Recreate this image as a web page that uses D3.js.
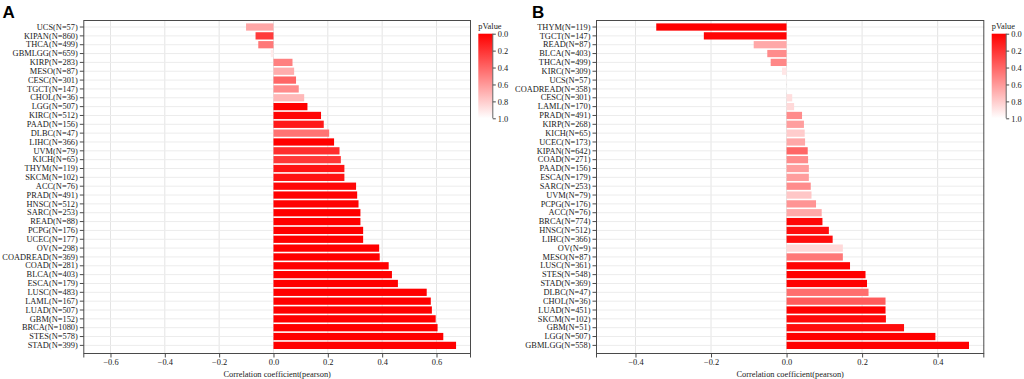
<!DOCTYPE html>
<html>
<head>
<meta charset="utf-8">
<script src="https://cdn.jsdelivr.net/npm/d3@7"></script>
<style>
  html, body { margin: 0; padding: 0; background: #fff; }
  svg { display: block; }
  text { font-family: "Liberation Serif", "Times New Roman", serif; }
  text.letter { font-family: "Liberation Sans", Arial, sans-serif; font-weight: bold; }
</style>
</head>
<body>
<svg id="chart" width="1024" height="379"></svg>
<script>
// ---------------- Panel A data ----------------
const catsA = ["UCS(N=57)","KIPAN(N=860)","THCA(N=499)","GBMLGG(N=659)","KIRP(N=283)","MESO(N=87)","CESC(N=301)","TGCT(N=147)","CHOL(N=36)","LGG(N=507)","KIRC(N=512)","PAAD(N=156)","DLBC(N=47)","LIHC(N=366)","UVM(N=79)","KICH(N=65)","THYM(N=119)","SKCM(N=102)","ACC(N=76)","PRAD(N=491)","HNSC(N=512)","SARC(N=253)","READ(N=88)","PCPG(N=176)","UCEC(N=177)","OV(N=298)","COADREAD(N=369)","COAD(N=281)","BLCA(N=403)","ESCA(N=179)","LUSC(N=483)","LAML(N=167)","LUAD(N=507)","GBM(N=152)","BRCA(N=1080)","STES(N=578)","STAD(N=399)"];
const corA = [-0.101,-0.066,-0.056,-0.010,0.070,0.076,0.083,0.093,0.113,0.125,0.175,0.185,0.205,0.223,0.243,0.248,0.261,0.261,0.304,0.308,0.313,0.320,0.320,0.330,0.330,0.389,0.391,0.424,0.436,0.458,0.564,0.579,0.583,0.597,0.604,0.625,0.672];
const pA = [0.65,0.23,0.47,0.92,0.50,0.68,0.40,0.55,0.72,0.00,0.02,0.10,0.45,0.00,0.18,0.22,0.08,0.08,0.03,0.01,0.01,0.00,0.00,0.00,0.00,0.00,0.00,0.00,0.00,0.00,0.00,0.00,0.00,0.00,0.00,0.00,0.00];
const ticksA = [-0.6,-0.4,-0.2,0.0,0.2,0.4,0.6];

// ---------------- Panel B data ----------------
const catsB = ["THYM(N=119)","TGCT(N=147)","READ(N=87)","BLCA(N=403)","THCA(N=499)","KIRC(N=309)","UCS(N=57)","COADREAD(N=358)","CESC(N=301)","LAML(N=170)","PRAD(N=491)","KIRP(N=268)","KICH(N=65)","UCEC(N=173)","KIPAN(N=642)","COAD(N=271)","PAAD(N=156)","ESCA(N=179)","SARC(N=253)","UVM(N=79)","PCPG(N=176)","ACC(N=76)","BRCA(N=774)","HNSC(N=512)","LIHC(N=366)","OV(N=9)","MESO(N=87)","LUSC(N=361)","STES(N=548)","STAD(N=369)","DLBC(N=47)","CHOL(N=36)","LUAD(N=451)","SKCM(N=102)","GBM(N=51)","LGG(N=507)","GBMLGG(N=558)"];
const corB = [-0.345,-0.219,-0.087,-0.051,-0.042,-0.012,-0.002,0.002,0.015,0.020,0.041,0.046,0.048,0.049,0.056,0.057,0.059,0.059,0.064,0.066,0.078,0.093,0.095,0.112,0.122,0.149,0.149,0.168,0.209,0.213,0.217,0.262,0.262,0.263,0.311,0.394,0.483];
const pB = [0.00,0.02,0.66,0.55,0.53,0.90,0.97,0.99,0.87,0.85,0.55,0.62,0.80,0.66,0.40,0.55,0.62,0.62,0.55,0.78,0.58,0.66,0.02,0.05,0.05,0.85,0.47,0.01,0.00,0.00,0.43,0.36,0.00,0.03,0.05,0.00,0.00];
const ticksB = [-0.4,-0.2,0.0,0.2,0.4];

const legendTicks = [0.0,0.2,0.4,0.6,0.8,1.0];
const axisTitle = "Correlation coefficient(pearson)";

const svg = d3.select("#chart");
const color = d3.scaleLinear().domain([0, 1]).range(["#ff0000", "#ffffff"]).interpolate(d3.interpolateRgb);
const fmt = d3.format(".1f");
const minus = s => s.replace("-", "\u2212");

function drawPanel(cfg) {
  const g = svg.append("g");
  const x = d3.scaleLinear().domain(cfg.domain).range([cfg.left, cfg.right]);
  const y = d3.scaleBand().domain(cfg.cats).range([22.6, 349.8]).paddingInner(0.18).paddingOuter(0.09);

  // vertical grid
  g.selectAll("line.vg").data(cfg.ticks).join("line")
    .attr("x1", d => x(d)).attr("x2", d => x(d))
    .attr("y1", cfg.top).attr("y2", cfg.bottom)
    .attr("stroke", "#e4e4e4").attr("stroke-width", 1);
  // horizontal grid at category centers
  g.selectAll("line.hg").data(cfg.cats).join("line")
    .attr("x1", cfg.left).attr("x2", cfg.right)
    .attr("y1", d => y(d) + y.bandwidth() / 2).attr("y2", d => y(d) + y.bandwidth() / 2)
    .attr("stroke", "#ececec").attr("stroke-width", 1);

  // bars
  g.selectAll("rect.bar").data(cfg.cats.map((c, i) => ({c, v: cfg.vals[i], p: cfg.p[i]}))).join("rect")
    .attr("x", d => Math.min(x(0), x(d.v)))
    .attr("width", d => Math.abs(x(d.v) - x(0)))
    .attr("y", d => y(d.c))
    .attr("height", y.bandwidth())
    .attr("fill", d => color(d.p));

  // frame
  g.append("rect")
    .attr("x", cfg.left + 0.5).attr("y", cfg.top + 0.5)
    .attr("width", cfg.right - cfg.left - 1).attr("height", cfg.bottom - cfg.top - 1)
    .attr("fill", "none").attr("stroke", "#4a4a4a").attr("stroke-width", 1);

  // left axis
  const ya = d3.axisLeft(y).tickSize(4).tickPadding(2);
  const yg = g.append("g").attr("transform", `translate(${cfg.left + 0.5},0)`).call(ya);
  yg.select(".domain").remove();
  yg.selectAll(".tick line").attr("stroke", "#4a4a4a");
  yg.selectAll(".tick text").attr("font-size", "8.4px").attr("fill", "#1a1a1a");

  // bottom axis
  const xa = d3.axisBottom(x).tickValues(cfg.ticks).tickSize(4).tickPadding(2).tickFormat(d => minus(fmt(d)));
  const xg = g.append("g").attr("transform", `translate(0,${cfg.bottom - 0.5})`).call(xa);
  xg.select(".domain").remove();
  xg.selectAll(".tick line").attr("stroke", "#4a4a4a");
  xg.selectAll(".tick text").attr("font-size", "8.4px").attr("fill", "#1a1a1a");
  // corner ticks
  g.selectAll("line.ct").data([cfg.left + 0.5, cfg.right - 0.5]).join("line")
    .attr("x1", d => d).attr("x2", d => d)
    .attr("y1", cfg.bottom - 0.5).attr("y2", cfg.bottom + 3.5)
    .attr("stroke", "#4a4a4a");

  // axis title
  g.append("text")
    .attr("x", (cfg.left + cfg.right) / 2).attr("y", 377)
    .attr("text-anchor", "middle").attr("font-size", "8.4px").attr("fill", "#1a1a1a")
    .text(axisTitle);

  // panel letter
  g.append("text").attr("class", "letter")
    .attr("x", cfg.letterX).attr("y", 17.5)
    .attr("font-size", "17px").attr("fill", "#000")
    .text(cfg.letter);

  // legend
  const lx = cfg.legX, ly0 = 33.7, ly1 = 118.3, lw = 14.5;
  const gid = "grad" + cfg.letter;
  const grad = svg.append("defs").append("linearGradient").attr("id", gid)
    .attr("x1", 0).attr("y1", 0).attr("x2", 0).attr("y2", 1);
  grad.selectAll("stop").data(legendTicks).join("stop")
    .attr("offset", d => d).attr("stop-color", d => color(d));
  g.append("rect").attr("x", lx).attr("y", ly0).attr("width", lw).attr("height", ly1 - ly0)
    .attr("fill", `url(#${gid})`);
  const ls = d3.scaleLinear().domain([0, 1]).range([ly0, ly1]);
  const la = d3.axisRight(ls).tickValues(legendTicks).tickSize(3).tickPadding(2).tickFormat(fmt);
  const lg = g.append("g").attr("transform", `translate(${lx + lw},0)`).call(la);
  lg.select(".domain").attr("stroke", "#666").attr("d", `M0,${ly0}H0V${ly1}H0`);
  lg.selectAll(".tick line").attr("stroke", "#4a4a4a");
  lg.selectAll(".tick text").attr("font-size", "8.4px").attr("fill", "#1a1a1a");
  g.append("text").attr("x", lx).attr("y", 28.5).attr("font-size", "8.4px").attr("fill", "#1a1a1a")
    .text("pValue");
}

drawPanel({cats: catsA, vals: corA, p: pA, ticks: ticksA, domain: [-0.7, 0.727],
  left: 83.3, right: 471, top: 20, bottom: 354, letter: "A", letterX: 2.5, legX: 478.3});
drawPanel({cats: catsB, vals: corB, p: pB, ticks: ticksB, domain: [-0.5045, 0.5235],
  left: 596, right: 984.3, top: 20, bottom: 354, letter: "B", letterX: 532, legX: 991.7});
</script>
</body>
</html>
